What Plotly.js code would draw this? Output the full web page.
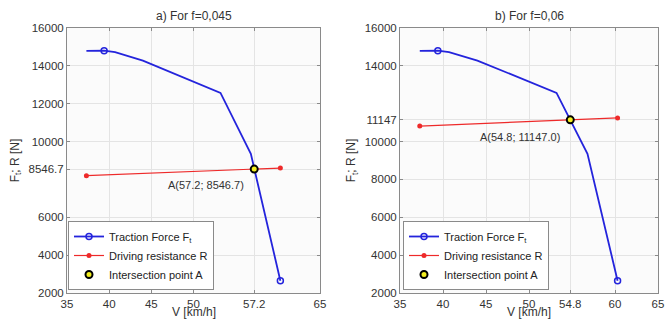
<!DOCTYPE html>
<html>
<head>
<meta charset="utf-8">
<script src="https://cdn.plot.ly/plotly-3.0.1.min.js"></script>
<style>
html,body{margin:0;padding:0;background:#fff;}
#chart{width:665px;height:320px;}
</style>
</head>
<body>
<div id="chart"></div>
<script>
// Traction force curve (same vehicle in both panels)
var ftSpeed = [37.3, 39.4, 40.7, 44.0, 53.2, 56.8, 60.3];
var ftForce = [14790, 14800, 14720, 14280, 12570, 9350, 2650];
var ftMarked = [false, true, false, false, false, false, true];

// Driving resistance, panel a) f=0,045 and panel b) f=0,06
var rSpeed = [37.3, 60.3];
var rForceA = [8200, 8602];
var rForceB = [10820, 11250];

// Intersection points
var intA = {v: 57.2, f: 8546.7};
var intB = {v: 54.8, f: 11147.0};

var panelTitles = ['a) For f=0,045', 'b) For f=0,06'];
var xTitle = 'V [km/h]';
var yTitle = 'F<sub>t</sub>; R [N]';
var xTicksA = [35, 40, 45, 50, 57.2, 65];
var xTicksB = [35, 40, 45, 50, 54.8, 60, 65];
var yTicksA = [2000, 4000, 6000, 8546.7, 10000, 12000, 14000, 16000];
var yTicksB = [2000, 4000, 6000, 8000, 10000, 11147, 14000, 16000];
var yTickTextA = ['2000', '4000', '6000', '8546.7', '10000', '12000', '14000', '16000'];
var yTickTextB = ['2000', '4000', '6000', '8000', '10000', '11147', '14000', '16000'];

var BLUE = '#2424dc';
var RED = '#ee2a2a';
var FONT = 'Liberation Sans, Arial, sans-serif';

// reversed order so the first point carries a visible marker (legend style)
var revSpeed = ftSpeed.slice().reverse();
var revForce = ftForce.slice().reverse();
var revColors = ftMarked.slice().reverse().map(function(m){ return m ? BLUE : 'rgba(0,0,0,0)'; });

function panel(xa, ya, leg, rForce, pt) {
  return [
    {x: revSpeed, y: revForce, xaxis: xa, yaxis: ya, legend: leg,
     type: 'scatter', mode: 'lines+markers', name: 'Traction Force F<sub>t</sub>',
     line: {color: BLUE, width: 1.8},
     marker: {symbol: 'circle-open', size: 6, color: revColors, line: {width: 1.5}}},
    {x: rSpeed, y: rForce, xaxis: xa, yaxis: ya, legend: leg,
     type: 'scatter', mode: 'lines+markers', name: 'Driving resistance R',
     line: {color: RED, width: 1.2},
     marker: {symbol: 'circle', size: 5, color: RED}},
    {x: [pt.v], y: [pt.f], xaxis: xa, yaxis: ya, legend: leg,
     type: 'scatter', mode: 'markers', name: 'Intersection point A',
     marker: {symbol: 'circle', size: 7, color: '#f2ee20', line: {color: '#000', width: 2}}}
  ];
}

var data = panel('x', 'y', 'legend', rForceA, intA).concat(panel('x2', 'y2', 'legend2', rForceB, intB));

function xAxis(domain, ticks, anchor) {
  return {
    domain: domain, anchor: anchor, range: [35, 65],
    tickvals: ticks, ticktext: ticks.map(String),
    showgrid: true, gridcolor: '#e4e4e4', gridwidth: 1,
    zeroline: false, showline: true, linecolor: '#8a8a8a', linewidth: 1, mirror: 'ticks',
    ticks: 'inside', ticklen: 3, tickcolor: '#8a8a8a',
    tickfont: {family: FONT, size: 11.5, color: '#333'}
  };
}
function yAxis(domain, ticks, texts, anchor) {
  return {
    domain: domain, anchor: anchor, range: [2000, 16000],
    tickvals: ticks, ticktext: texts,
    showgrid: true, gridcolor: '#e4e4e4', gridwidth: 1,
    zeroline: false, showline: true, linecolor: '#8a8a8a', linewidth: 1, mirror: 'ticks',
    ticks: 'inside', ticklen: 3, tickcolor: '#8a8a8a',
    tickfont: {family: FONT, size: 11.5, color: '#333'},
    title: {text: yTitle, font: {family: FONT, size: 12, color: '#333'}, standoff: 6}
  };
}

var TOP = 28, BOT = 27, PH = 320 - TOP - BOT;
var xDomA = [67/665, 320/665];
var xDomB = [400/665, 658/665];

function legendAt(xPix) {
  return {
    x: xPix/665, y: 3/PH, xanchor: 'left', yanchor: 'bottom',
    xref: 'paper', yref: 'paper',
    bgcolor: '#ffffff', bordercolor: '#8a8a8a', borderwidth: 1,
    font: {family: FONT, size: 11, color: '#222'},
    itemwidth: 30, tracegroupgap: 0
  };
}

function xTitleAnn(dom) {
  return {xref: 'paper', yref: 'paper', x: (dom[0]+dom[1])/2, y: -27/PH, text: xTitle,
    showarrow: false, font: {family: FONT, size: 12, color: '#333'},
    xanchor: 'center', yanchor: 'bottom', borderpad: 0};
}

var layout = {
  width: 665, height: 320,
  margin: {l: 0, r: 0, t: TOP, b: BOT},
  paper_bgcolor: '#ffffff', plot_bgcolor: '#fbfbfb',
  font: {family: FONT, color: '#333'},
  showlegend: true,
  xaxis: xAxis(xDomA, xTicksA, 'y'),
  yaxis: yAxis([0, 1], yTicksA, yTickTextA, 'x'),
  xaxis2: xAxis(xDomB, xTicksB, 'y2'),
  yaxis2: yAxis([0, 1], yTicksB, yTickTextB, 'x2'),
  legend: legendAt(68),
  legend2: legendAt(403),
  annotations: [
    {xref: 'paper', yref: 'paper', x: (xDomA[0]+xDomA[1])/2, y: 1 + 12/PH, text: panelTitles[0],
     showarrow: false, font: {family: FONT, size: 12, color: '#333'}, xanchor: 'center', yanchor: 'middle'},
    {xref: 'paper', yref: 'paper', x: (xDomB[0]+xDomB[1])/2, y: 1 + 12/PH, text: panelTitles[1],
     showarrow: false, font: {family: FONT, size: 12, color: '#333'}, xanchor: 'center', yanchor: 'middle'},
    xTitleAnn(xDomA),
    xTitleAnn(xDomB),
    {xref: 'x', yref: 'y', x: intA.v, y: intA.f,
     text: 'A(' + intA.v.toFixed(1) + '; ' + intA.f.toFixed(1) + ')',
     showarrow: false, xanchor: 'right', yanchor: 'top', xshift: -8, yshift: -8,
     font: {family: FONT, size: 11, color: '#333'}},
    {xref: 'x2', yref: 'y2', x: intB.v, y: intB.f,
     text: 'A(' + intB.v.toFixed(1) + '; ' + intB.f.toFixed(1) + ')',
     showarrow: false, xanchor: 'right', yanchor: 'top', xshift: -8, yshift: -9,
     font: {family: FONT, size: 11, color: '#333'}}
  ]
};

Plotly.newPlot('chart', data, layout, {displayModeBar: false, staticPlot: true});
</script>
</body>
</html>
